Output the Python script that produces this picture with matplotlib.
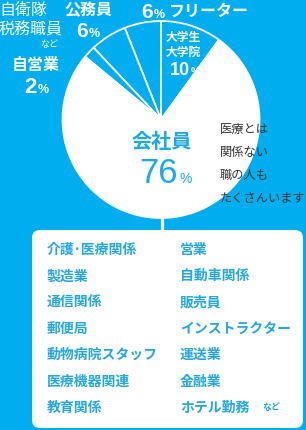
import matplotlib
matplotlib.use("Agg")
import matplotlib.pyplot as plt
from matplotlib.patches import FancyBboxPatch

plt.rcParams['font.family'] = ['Noto Sans CJK JP', 'DejaVu Sans']

# ---- data ----
categories = ['大学生・大学院', 'フリーター', '公務員', '自営業', '会社員']
values = [10, 6, 6, 2, 76]
left_jobs = ['介護･医療関係', '製造業', '通信関係', '郵便局', '動物病院スタッフ', '医療機器関連', '教育関係']
right_jobs = ['営業', '自動車関係', '販売員', 'インストラクター', '運送業', '金融業', 'ホテル勤務']
note_lines = ['医療とは', '関係ない', '職の人も', 'たくさんいます']

BG = '#00AEEF'
BOX_TXT = '#25A7E1'
CENTER_TXT = '#1BA8E6'
DARK = '#333333'
NUM = 'Liberation Sans'
W, H = 306, 431

fig = plt.figure(figsize=(W / 100, H / 100), dpi=100)
fig.patch.set_facecolor(BG)
ax = fig.add_axes([0, 0, 1, 1])

def Y(y):
    return H - y

cx, cy, r = 161, 120.5, 98.5
colors = [BG, BG, BG, BG, 'white']
ax.pie(values, colors=colors, startangle=54, counterclock=True,
       center=(cx, Y(cy)), radius=r, frame=True,
       wedgeprops=dict(edgecolor='white', linewidth=1.3))
ax.set_xlim(0, W)
ax.set_ylim(0, H)
ax.set_aspect('equal')
ax.axis('off')

# connector line
ax.plot([161.5, 161.5], [Y(218), Y(231)], color='white', lw=2.3, solid_capstyle='butt')

# box
box = FancyBboxPatch((32, Y(429)), 271, 198, boxstyle='round,pad=0,rounding_size=8',
                     facecolor='white', edgecolor='none')
ax.add_patch(box)

# center label
ax.text(162, Y(142), '会社員', color=CENTER_TXT, fontsize=14.5, fontweight='bold',
        ha='center', va='center')
ax.text(178, Y(183), '76', color=CENTER_TXT, fontsize=25, family=NUM,
        ha='right', va='baseline')
ax.text(179, Y(183), '%', color=CENTER_TXT, fontsize=10, family=NUM,
        ha='left', va='baseline')

# outer labels (white)
ax.text(-1, Y(10), '自衛隊', color='white', fontsize=11.5, ha='left', va='center')
ax.text(-1, Y(30), '税務職員', color='white', fontsize=11.5, ha='left', va='center')
ax.text(58, Y(44), 'など', color='white', fontsize=6.5, ha='right', va='center')

ax.text(88, Y(10), '公務員', color='white', fontsize=11.5, fontweight='bold', ha='center', va='center')
ax.text(88, Y(37), '6', color='white', fontsize=15, fontweight='bold', family=NUM, ha='right', va='baseline')
ax.text(88.5, Y(37), '%', color='white', fontsize=9, fontweight='bold', family=NUM, ha='left', va='baseline')

ax.text(153, Y(18), '6', color='white', fontsize=15, fontweight='bold', family=NUM, ha='right', va='baseline')
ax.text(153.5, Y(18), '%', color='white', fontsize=9, fontweight='bold', family=NUM, ha='left', va='baseline')
ax.text(169, Y(10.5), 'フリーター', color='white', fontsize=11.5, fontweight='bold', ha='left', va='center')

ax.text(166, Y(37.5), '大学生', color='white', fontsize=8.5, fontweight='bold', ha='left', va='center')
ax.text(166, Y(52), '大学院', color='white', fontsize=8.5, fontweight='bold', ha='left', va='center')
ax.text(190, Y(75), '10', color='white', fontsize=13, fontweight='bold', family=NUM, ha='right', va='baseline')
ax.text(190.5, Y(75), '%', color='white', fontsize=7.5, fontweight='bold', family=NUM, ha='left', va='baseline')

ax.text(36, Y(65), '自営業', color='white', fontsize=11.5, fontweight='bold', ha='center', va='center')
ax.text(37, Y(93), '2', color='white', fontsize=16, fontweight='bold', family=NUM, ha='right', va='baseline')
ax.text(37.5, Y(93), '%', color='white', fontsize=9, fontweight='bold', family=NUM, ha='left', va='baseline')

# note text
for i, line in enumerate(note_lines):
    ax.text(220, Y(130 + 22.8 * i), line, color=DARK, fontsize=8.8, ha='left', va='center')

# job lists
for i, (a, b) in enumerate(zip(left_jobs, right_jobs)):
    yy = Y(250 + 26.3 * i)
    ax.text(47, yy, a, color=BOX_TXT, fontsize=10, fontweight='bold', ha='left', va='center')
    ax.text(180, yy, b, color=BOX_TXT, fontsize=10, fontweight='bold', ha='left', va='center')
ax.text(262, Y(408), 'など', color=BOX_TXT, fontsize=6.5, fontweight='bold', ha='left', va='center')

fig.savefig('out.png', dpi=100, facecolor=BG)
